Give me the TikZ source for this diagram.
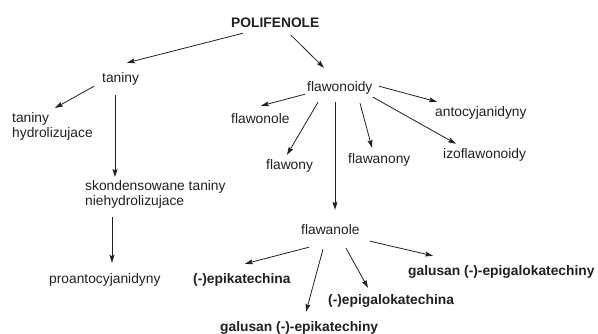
\documentclass[tikz,border=0pt]{standalone}
\usepackage{fontspec}
\setmainfont{Liberation Sans}
\usetikzlibrary{arrows.meta}
\definecolor{ink}{HTML}{231F20}
\newcommand{\diagfont}{\fontsize{13.8}{15.5}\selectfont}
\tikzset{%
  arrow/.style={line width=0.8pt,draw=ink,-{Stealth[length=8pt,width=5pt,inset=1.5pt]}},
  term/.style={inner sep=0pt,text height=10pt,text depth=3pt,anchor=base west,text=ink},
  group/.style={inner sep=0pt,align=left,anchor=north west,text=ink},
  key/.style={term,font=\diagfont\bfseries},
}

\begin{document}
\begin{tikzpicture}[x=1pt,y=-1pt,font=\diagfont]
      \useasboundingbox (0,0) rectangle (598,333);
      \node[key] (pol) at (231,27) {POLIFENOLE};
      \node[term] (tan) at (102,82) {taniny};
      \node[group] (hyd) at (12,112) {taniny\\hydrolizujace};
      \node[group] (sko) at (85,180) {skondensowane taniny\\niehydrolizujace};
      \node[term] (pro) at (49,283) {proantocyjanidyny};
      \node[term] (fla) at (307,91) {flawonoidy};
      \node[term] (fol) at (231,123) {flawonole};
      \node[term] (fny) at (266,169) {flawony};
      \node[term] (fan) at (348,163) {flawanony};
      \node[term] (ant) at (435,116) {antocyjanidyny};
      \node[term] (izo) at (443,158) {izoflawonoidy};
      \node[term] (fle) at (301,234) {flawanole};
      \node[key] (epk) at (193,283) {(-)epikatechina};
      \node[key] (gek) at (220,331) {galusan (-)-epikatechiny};
      \node[key] (egk) at (328,304) {(-)epigalokatechina};
      \node[key] (geg) at (408,275) {galusan (-)-epigalokatechiny};

      % taniny
      \draw[arrow] ([shift={(12,3)}]pol.south west) -- ([shift={(25,-9)}]tan.north west);
      \draw[arrow] ([shift={(-8,1)}]tan.south west) -- ([shift={(43,-4)}]hyd.north west);
      \draw[arrow] ([shift={(13,10)}]tan.south west) -- ([shift={(30,-3)}]sko.north west);
      \draw[arrow] ([shift={(27,8)}]sko.south west) -- ([shift={(63,-10)}]pro.north west);

      % flawonoidy
      \draw[arrow] ([shift={(60,5)}]pol.south west) -- ([shift={(17,-13)}]fla.north west);
      \draw[arrow] ([shift={(-2,0)}]fla.south west) -- ([shift={(30,-7)}]fol.north west);
      \draw[arrow] ([shift={(11,8)}]fla.south west) -- ([shift={(21,-4)}]fny.north west);
      \draw[arrow] ([shift={(28,8)}]fla.south west) -- ([shift={(34,-14)}]fle.north west);
      \draw[arrow] ([shift={(53,9)}]fla.south west) -- ([shift={(24,-5)}]fan.north west);
      \draw[arrow] ([shift={(72,-8)}]fla.south west) -- ([shift={(2,-4)}]ant.north west);
      \draw[arrow] ([shift={(66,3)}]fla.south west) -- ([shift={(13,-4)}]izo.north west);

      % flawanole
      \draw[arrow] ([shift={(8,10)}]fle.south west) -- ([shift={(52,-9)}]epk.north west);
      \draw[arrow] ([shift={(22,12)}]fle.south west) -- ([shift={(86,-9)}]gek.north west);
      \draw[arrow] ([shift={(45,11)}]fle.south west) -- ([shift={(40,-6)}]egk.north west);
      \draw[arrow] ([shift={(69,4)}]fle.south west) -- ([shift={(25,-9)}]geg.north west);
\end{tikzpicture}
\end{document}
